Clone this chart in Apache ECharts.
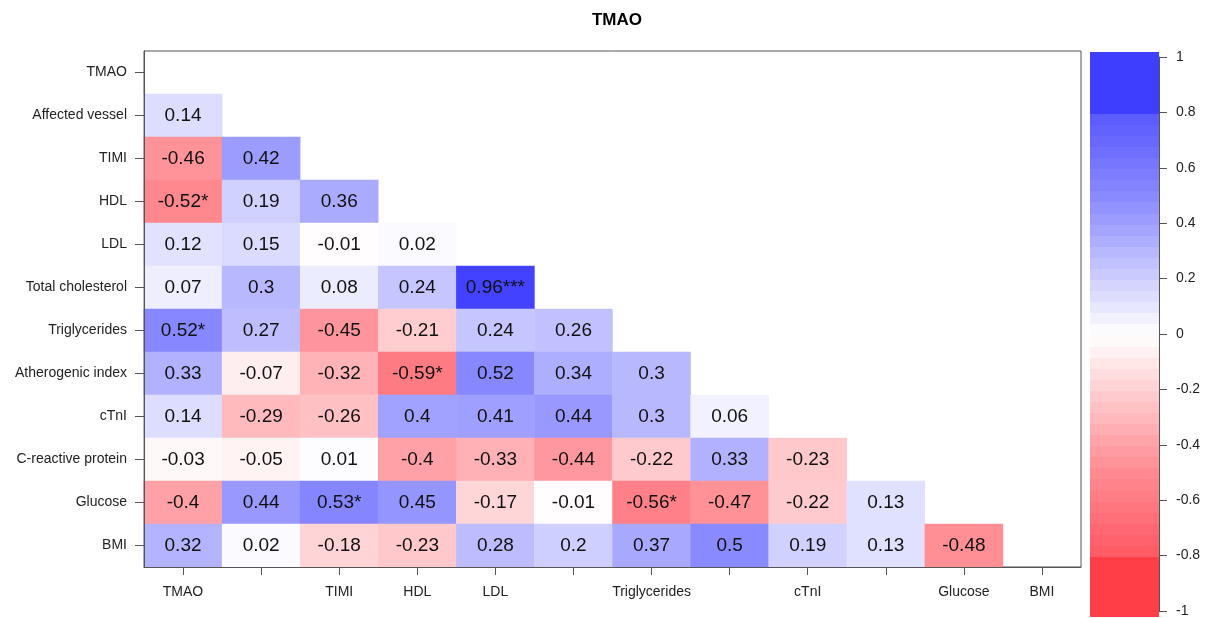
<!DOCTYPE html>
<html>
<head>
<meta charset="utf-8">
<title>TMAO</title>
<script src="https://cdn.jsdelivr.net/npm/echarts@6/dist/echarts.min.js"></script>
<style>
html, body { margin: 0; padding: 0; background: #fff; }
#chart { width: 1212px; height: 618px; }
</style>
</head>
<body>
<div id="chart"></div>
<script>
const variables = ['TMAO', 'Affected vessel', 'TIMI', 'HDL', 'LDL', 'Total cholesterol', 'Triglycerides',
  'Atherogenic index', 'cTnI', 'C-reactive protein', 'Glucose', 'BMI']

// x labels R kept (the rest were dropped because they overlap)
const xTickLabels = ['TMAO', '', 'TIMI', 'HDL', 'LDL', '', 'Triglycerides', '', 'cTnI', '', 'Glucose', 'BMI']

// lower triangle: row i = correlations with columns 0..i-1
const corrRows = [
  [],
  [0.14],
  [-0.46, 0.42],
  [-0.52, 0.19, 0.36],
  [0.12, 0.15, -0.01, 0.02],
  [0.07, 0.3, 0.08, 0.24, 0.96],
  [0.52, 0.27, -0.45, -0.21, 0.24, 0.26],
  [0.33, -0.07, -0.32, -0.59, 0.52, 0.34, 0.3],
  [0.14, -0.29, -0.26, 0.4, 0.41, 0.44, 0.3, 0.06],
  [-0.03, -0.05, 0.01, -0.4, -0.33, -0.44, -0.22, 0.33, -0.23],
  [-0.4, 0.44, 0.53, 0.45, -0.17, -0.01, -0.56, -0.47, -0.22, 0.13],
  [0.32, 0.02, -0.18, -0.23, 0.28, 0.2, 0.37, 0.5, 0.19, 0.13, -0.48],
]

// significance stars [row, col, mark]
const sigMarks = [
  [3, 0, '*'],
  [5, 4, '***'],
  [6, 0, '*'],
  [7, 3, '*'],
  [10, 2, '*'],
  [10, 6, '*'],
]

// red -> white -> blue, evenly spaced over -1..1
const colorStops = ['#FF3E48', '#FF606A', '#FF8A91', '#FFC3C6', '#FFFFFF', '#C3C3FF', '#8A8AFF', '#6060FF', '#3E3EFF']

const font = 'Liberation Sans, Arial, Helvetica, sans-serif'

const cells = []
corrRows.forEach((row, i) => {
  row.forEach((v, j) => {
    cells.push([j, i, v])
  })
})

function starsFor(i, j) {
  const m = sigMarks.find(s => s[0] === i && s[1] === j)
  return m ? m[2] : ''
}

// colour legend bands (stepped like corrplot's colorlegend)
const legendBands = []
legendBands.push([-1.02, -0.8, -1])
for (let k = 0; k < 40; k++) {
  const from = Math.round((-0.8 + k * 0.04) * 100) / 100
  const to = Math.round((from + 0.04) * 100) / 100
  legendBands.push([from, to, (from + to) / 2])
}
legendBands.push([0.8, 1.018, 1])

const chart = echarts.init(document.getElementById('chart'))

const option = {
  animation: false,
  backgroundColor: '#fff',
  textStyle: { fontFamily: font },
  title: {
    text: 'TMAO',
    left: 612,
    textAlign: 'center',
    top: 7,
    textStyle: { fontSize: 17, fontWeight: 'bold', color: '#000', fontFamily: font },
  },
  grid: [
    { left: 144, top: 51, width: 937, height: 516, show: true, borderColor: '#555', borderWidth: 1 },
    { left: 1090, top: 57, width: 69, height: 556 },
  ],
  visualMap: {
    type: 'continuous',
    show: false,
    min: -1,
    max: 1,
    dimension: 2,
    seriesIndex: [0, 1],
    inRange: { color: colorStops },
  },
  xAxis: [
    {
      type: 'category',
      gridIndex: 0,
      data: variables,
      z: 5,
      axisLine: { show: true, lineStyle: { color: '#555', width: 1 } },
      axisTick: { show: true, alignWithLabel: true, length: 8, lineStyle: { color: '#555' } },
      axisLabel: {
        interval: 0,
        margin: 18,
        fontSize: 14,
        color: '#222',
        fontFamily: font,
        formatter: (v, idx) => xTickLabels[idx],
      },
      splitLine: { show: false },
    },
    {
      type: 'value',
      gridIndex: 1,
      min: 0,
      max: 1,
      show: false,
    },
  ],
  yAxis: [
    {
      type: 'category',
      gridIndex: 0,
      data: variables,
      inverse: true,
      z: 5,
      axisLine: { show: true, lineStyle: { color: '#555', width: 1 } },
      axisTick: { show: true, alignWithLabel: true, length: 9, lineStyle: { color: '#555' } },
      axisLabel: { interval: 0, margin: 17, fontSize: 14, color: '#222', fontFamily: font },
      splitLine: { show: false },
    },
    {
      type: 'value',
      gridIndex: 1,
      position: 'right',
      min: -1,
      max: 1,
      interval: 0.2,
      z: 5,
      axisLine: { show: true, onZero: false, lineStyle: { color: '#555', width: 1 } },
      axisTick: { show: true, length: 8, lineStyle: { color: '#555' } },
      axisLabel: {
        margin: 17,
        fontSize: 14,
        color: '#222',
        fontFamily: font,
        formatter: v => String(Math.round(v * 10) / 10),
      },
      splitLine: { show: false },
    },
  ],
  series: [
    {
      type: 'heatmap',
      xAxisIndex: 0,
      yAxisIndex: 0,
      data: cells,
      itemStyle: { borderWidth: 0 },
      label: {
        show: true,
        fontSize: 19,
        color: '#111',
        fontFamily: font,
        formatter: p => String(p.value[2]) + starsFor(p.value[1], p.value[0]),
      },
      emphasis: { disabled: true },
    },
    {
      type: 'custom',
      xAxisIndex: 1,
      yAxisIndex: 1,
      clip: false,
      data: legendBands,
      encode: { y: [0, 1] },
      renderItem: (params, api) => {
        const top = api.coord([0, api.value(1)])
        const bottom = api.coord([1, api.value(0)])
        return {
          type: 'rect',
          shape: { x: top[0], y: Math.floor(top[1]), width: bottom[0] - top[0], height: Math.ceil(bottom[1] - top[1]) + 1 },
          style: { fill: api.visual('color') },
        }
      },
      silent: true,
    },
  ],
}

option && chart.setOption(option)
</script>
</body>
</html>
